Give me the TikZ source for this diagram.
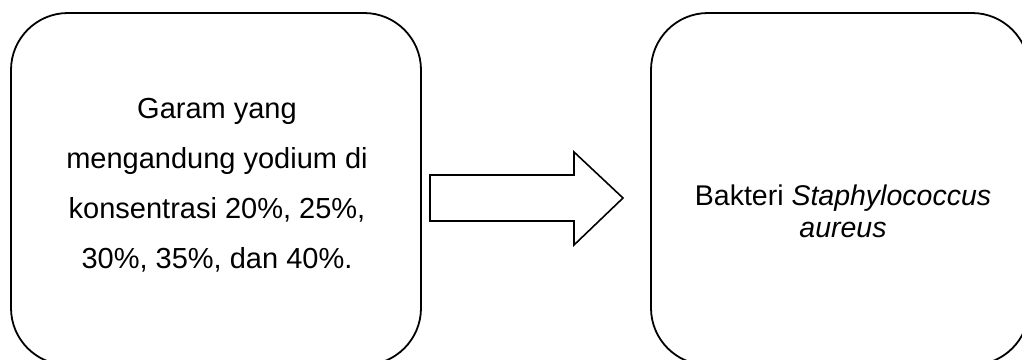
\documentclass[tikz,border=0pt]{standalone}
\usepackage{fontspec}
\setmainfont{Liberation Sans}
\usetikzlibrary{calc}
\begin{document}
\begin{tikzpicture}[x=1pt,y=-1pt,
  panel/.style={draw=black,line width=1.8pt,rounded corners=57pt,
    rectangle,inner sep=0pt},
  label/.style={align=center,inner sep=0pt},
  blockarrow/.style={draw=black,line width=1.6pt,fill=white,line join=miter}]
\useasboundingbox (0,0) rectangle (1022,359);

% two rounded panels, both running past the lower page edge
\node[panel,minimum width=410pt,minimum height=352pt] (src) at (216,189) {};
\node[panel,minimum width=378pt,minimum height=352pt] (dst) at (840,189) {};

% panel texts
\node[label,font=\fontsize{29}{50}\selectfont] (srctext) at (217,185)
  {Garam yang\\mengandung yodium di\\konsentrasi 20\%, 25\%,\\30\%, 35\%, dan 40\%.};
\node[label,font=\fontsize{28.5}{32}\selectfont] (dsttext) at (843,211)
  {Bakteri \textit{Staphylococcus}\\\textit{aureus}};

% hollow block arrow between the panels
\coordinate (tail) at (430,198);
\coordinate (tip) at (623,198);
\draw[blockarrow] ($(tail)+(0,-23)$) -- (574,175) -- (574,152) -- (tip)
  -- (574,245) -- (574,221) -- ($(tail)+(0,23)$) -- cycle;
\end{tikzpicture}
\end{document}
